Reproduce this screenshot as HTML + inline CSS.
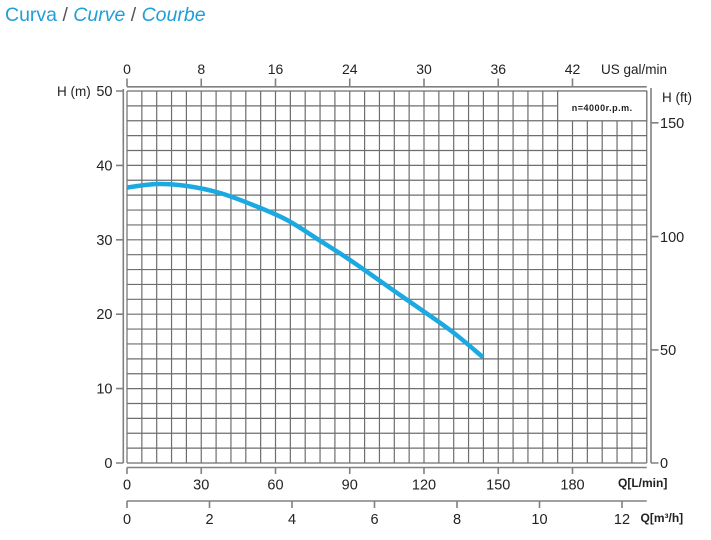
<!DOCTYPE html>
<html>
<head>
<meta charset="utf-8">
<style>
html,body{margin:0;padding:0;background:#fff;}
body{width:711px;height:540px;overflow:hidden;}
svg{display:block;}
text{font-family:"Liberation Sans",Arial,sans-serif;fill:#222;}
</style>
</head>
<body>
<svg width="711" height="540" viewBox="0 0 711 540" xmlns="http://www.w3.org/2000/svg">
  <!-- Title -->
  <text x="5" y="21" font-size="19.5" style="fill:#1f9fd8">Curva <tspan style="fill:#555">/</tspan> <tspan font-style="italic">Curve</tspan> <tspan style="fill:#555">/</tspan> <tspan font-style="italic">Courbe</tspan></text>

  <!-- Grid -->
  <g stroke="#6e6e6e" stroke-width="1.2" fill="none">
    <path d="
M127,91V463 M141.85,91V463 M156.7,91V463 M171.55,91V463 M186.4,91V463 M201.25,91V463 M216.1,91V463 M230.95,91V463 M245.8,91V463 M260.65,91V463 M275.5,91V463 M290.35,91V463 M305.2,91V463 M320.05,91V463 M334.9,91V463 M349.75,91V463 M364.6,91V463 M379.45,91V463 M394.3,91V463 M409.15,91V463 M424,91V463 M438.85,91V463 M453.7,91V463 M468.55,91V463 M483.4,91V463 M498.25,91V463 M513.1,91V463 M527.95,91V463 M542.8,91V463 M557.65,91V463 M572.5,91V463 M587.35,91V463 M602.2,91V463 M617.05,91V463 M631.9,91V463 M646.75,91V463
M127,91H646.75 M127,105.88H646.75 M127,120.76H646.75 M127,135.64H646.75 M127,150.52H646.75 M127,165.4H646.75 M127,180.28H646.75 M127,195.16H646.75 M127,210.04H646.75 M127,224.92H646.75 M127,239.8H646.75 M127,254.68H646.75 M127,269.56H646.75 M127,284.44H646.75 M127,299.32H646.75 M127,314.2H646.75 M127,329.08H646.75 M127,343.96H646.75 M127,358.84H646.75 M127,373.72H646.75 M127,388.6H646.75 M127,403.48H646.75 M127,418.36H646.75 M127,433.24H646.75 M127,448.12H646.75 M127,463H646.75"/>
  </g>

  <!-- Legend box -->
  <rect x="557.65" y="91" width="89.1" height="29.76" fill="#fff" stroke="#6e6e6e" stroke-width="1.2"/>
  <text x="602.2" y="111" font-size="9" font-weight="bold" text-anchor="middle" letter-spacing="0.5">n=4000r.p.m.</text>

  <!-- Axes lines -->
  <g stroke="#808080" stroke-width="1.6" fill="none">
    <path d="M127,86.8H646.75"/>
    <path d="M127,78.5V86.8 M201.25,78.5V86.8 M275.5,78.5V86.8 M349.75,78.5V86.8 M424,78.5V86.8 M498.25,78.5V86.8 M572.5,78.5V86.8"/>
    <path d="M123.3,89V463"/>
    <path d="M116,91H123.3 M116,165.4H123.3 M116,239.8H123.3 M116,314.2H123.3 M116,388.6H123.3 M116,463H123.3"/>
    <path d="M651,88V463"/>
    <path d="M651,122.8H658.5 M651,236.6H658.5 M651,349.9H658.5 M651,463H658.5"/>
    <path d="M127,467.5H646.75"/>
    <path d="M127,467.5V474 M201.25,467.5V474 M275.5,467.5V474 M349.75,467.5V474 M424,467.5V474 M498.25,467.5V474 M572.5,467.5V474"/>
    <path d="M127,501H646.75"/>
    <path d="M127,501V508 M209.5,501V508 M292,501V508 M374.5,501V508 M457,501V508 M539.5,501V508 M622,501V508"/>
  </g>

  <!-- Curve -->
  <path d="M127,187.5 C132,186.9 147,184.25 157,184 C167,183.75 176.5,184.5 187,186 C197.5,187.5 209,189.83 220,193 C231,196.17 241.83,200.5 253,205 C264.17,209.5 275.83,214.05 287,220 C298.17,225.95 309.5,234.03 320,240.7 C330.5,247.37 336.67,250.95 350,260 C363.33,269.05 383.33,283.33 400,295 C416.67,306.67 436.17,319.62 450,330 C463.83,340.38 477.5,352.75 483,357.3"
        fill="none" stroke="#1ba9e1" stroke-width="4.5" stroke-linejoin="round"/>

  <!-- Top axis labels -->
  <g font-size="14" text-anchor="middle">
    <text x="127" y="74">0</text>
    <text x="201.25" y="74">8</text>
    <text x="275.5" y="74">16</text>
    <text x="349.75" y="74">24</text>
    <text x="424" y="74">30</text>
    <text x="498.25" y="74">36</text>
    <text x="572.5" y="74">42</text>
  </g>
  <text x="601" y="74" font-size="13.5">US gal/min</text>

  <!-- Left axis labels -->
  <text x="57" y="96" font-size="13.5">H (m)</text>
  <g font-size="14.5" text-anchor="end">
    <text x="112.5" y="96">50</text>
    <text x="112.5" y="170.4">40</text>
    <text x="112.5" y="244.8">30</text>
    <text x="112.5" y="319.2">20</text>
    <text x="112.5" y="393.6">10</text>
    <text x="112.5" y="468">0</text>
  </g>

  <!-- Right axis labels -->
  <text x="662" y="102" font-size="13.5">H (ft)</text>
  <g font-size="14.5">
    <text x="660" y="128">150</text>
    <text x="660" y="241.8">100</text>
    <text x="660" y="355">50</text>
    <text x="660" y="468">0</text>
  </g>

  <!-- Bottom L/min labels -->
  <g font-size="14.5" text-anchor="middle">
    <text x="127" y="489.5">0</text>
    <text x="201.25" y="489.5">30</text>
    <text x="275.5" y="489.5">60</text>
    <text x="349.75" y="489.5">90</text>
    <text x="424" y="489.5">120</text>
    <text x="498.25" y="489.5">150</text>
    <text x="572.5" y="489.5">180</text>
  </g>
  <text x="618" y="487" font-size="12" font-weight="bold">Q[L/min]</text>

  <!-- Bottom m3/h labels -->
  <g font-size="14.5" text-anchor="middle">
    <text x="127" y="524">0</text>
    <text x="209.5" y="524">2</text>
    <text x="292" y="524">4</text>
    <text x="374.5" y="524">6</text>
    <text x="457" y="524">8</text>
    <text x="539.5" y="524">10</text>
    <text x="622" y="524">12</text>
  </g>
  <text x="640.5" y="522" font-size="12" font-weight="bold">Q[m³/h]</text>
</svg>
</body>
</html>
